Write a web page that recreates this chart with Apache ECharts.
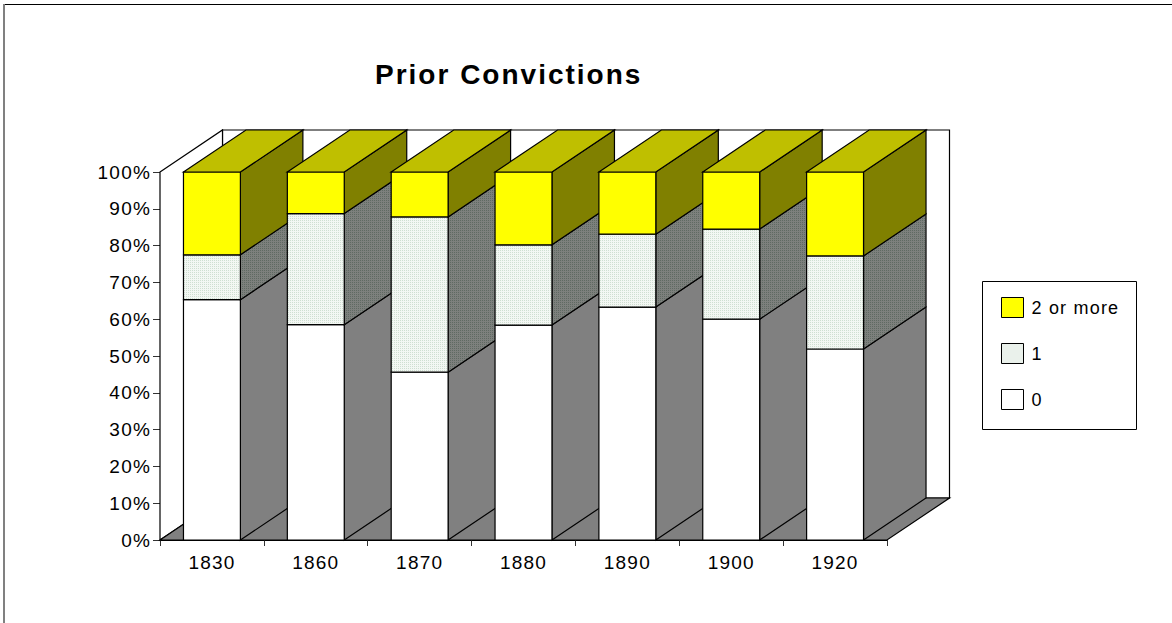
<!DOCTYPE html>
<html><head><meta charset="utf-8">
<style>
html,body{margin:0;padding:0;background:#fff}
#c{width:1172px;height:623px}
#c svg text{letter-spacing:1.2px}
#c svg text[style*="bold"]{letter-spacing:2px}
</style>
<script src="https://cdn.jsdelivr.net/npm/echarts@6/dist/echarts.min.js"></script>
</head><body><div id="c"></div>
<script>
const categories = ['1830','1860','1870','1880','1890','1900','1920'];
const zero = [65.3,58.5,45.6,58.4,63.3,60,51.9];
const one = [12.2,30.2,42.2,21.8,19.8,24.5,25.3];
const twoOrMore = [22.5,11.3,12.2,19.8,16.9,15.5,22.8];
const tickLabels = ['0%','10%','20%','30%','40%','50%','60%','70%','80%','90%','100%'];
const title = 'Prior Convictions';
const FONT = '"Liberation Sans", Arial, sans-serif';
const DX = 62.5, DY = -42;

function pattern(bg, dot) {
  const cv = document.createElement('canvas');
  cv.width = 4; cv.height = 4;
  const g = cv.getContext('2d');
  g.fillStyle = bg; g.fillRect(0, 0, 4, 4);
  g.fillStyle = dot;
  g.fillRect(0, 0, 1, 1); g.fillRect(2, 2, 1, 1);
  g.fillRect(0, 2, 1, 1); g.fillRect(2, 0, 1, 1);
  return {image: cv, repeat: 'repeat'};
}
const dotFront = pattern('#f3f7f3', '#cfdfd1');
const dotSide = pattern('#7d807d', '#5f6a62');

const levels = [
  {name: '0', values: zero, base: [], front: '#ffffff', side: '#808080'},
  {name: '1', values: one, base: zero, front: dotFront, side: dotSide},
  {name: '2 or more', values: twoOrMore, base: zero.map((v, i) => v + one[i]), front: '#ffff00', side: '#808000', top: '#bfbf00'}
];
const line = {stroke: '#000', lineWidth: 1.2};

function barItem(lv, li) {
  return function (params, api) {
    const i = api.value(0), lo = api.value(2), hi = lo + api.value(1);
    const bw = api.size([1, 0])[0] * 0.548;
    const a = api.coord([i, lo]), b = api.coord([i, hi]);
    const x0 = a[0] - bw / 2, x1 = a[0] + bw / 2, y0 = a[1], y1 = b[1];
    const z = 10 + i * 10 + li;
    const kids = [
      {type: 'polygon', z2: z, shape: {points: [[x1, y0], [x1 + DX, y0 + DY], [x1 + DX, y1 + DY], [x1, y1]]}, style: Object.assign({fill: lv.side}, line)},
      {type: 'rect', z2: z + 1, shape: {x: x0, y: y1, width: bw, height: y0 - y1}, style: Object.assign({fill: lv.front}, line)}
    ];
    if (lv.top) kids.push({type: 'polygon', z2: z + 2, shape: {points: [[x0, y1], [x0 + DX, y1 + DY], [x1 + DX, y1 + DY], [x1, y1]]}, style: Object.assign({fill: lv.top}, line)});
    return {type: 'group', children: kids};
  };
}
function wallItem(params) {
  const s = params.coordSys, l = s.x, r = s.x + s.width, t = s.y, b = s.y + s.height;
  return {type: 'group', children: [
    {type: 'polygon', z2: 1, shape: {points: [[l + DX, t + DY], [r + DX, t + DY], [r + DX, b + DY], [l + DX, b + DY]]}, style: Object.assign({fill: '#fff'}, line)},
    {type: 'polygon', z2: 2, shape: {points: [[l, t], [l + DX, t + DY], [l + DX, b + DY], [l, b]]}, style: Object.assign({fill: '#fff'}, line)},
    {type: 'polygon', z2: 3, shape: {points: [[l, b], [l + DX, b + DY], [r + DX, b + DY], [r, b]]}, style: Object.assign({fill: '#808080'}, line)}
  ]};
}

const series = [{type: 'custom', name: 'walls', silent: true, z: 1, renderItem: wallItem, data: [[0]], encode: {x: 0, y: 0}}];
levels.forEach((lv, li) => series.push({
  type: 'custom', name: lv.name, z: 2, silent: true, renderItem: barItem(lv, li),
  itemStyle: {color: lv.front === dotFront ? '#e8f2e8' : lv.front},
  encode: {x: 0, y: 1},
  data: lv.values.map((v, i) => [i, v, lv.base.length ? lv.base[i] : 0])
}));

const legendColor = {'2 or more': '#ffff00', '1': dotFront, '0': '#ffffff'};
const chart = echarts.init(document.getElementById('c'), null, {renderer: 'svg', width: 1172, height: 623});
chart.setOption({
  animation: false,
  backgroundColor: '#fff',
  title: {text: title, left: 375, top: 60, padding: 0, textStyle: {fontFamily: FONT, fontSize: 28, fontWeight: 'bold', color: '#000'}},
  grid: {left: 160, right: 285, top: 172, bottom: 83, containLabel: false},
  xAxis: {type: 'category', data: categories,
    axisLine: {lineStyle: {color: '#000', width: 1}},
    axisTick: {show: true, length: 6, alignWithLabel: false, lineStyle: {color: '#333'}},
    axisLabel: {fontFamily: FONT, fontSize: 19, color: '#000', margin: 13}},
  yAxis: {type: 'value', min: 0, max: 100, interval: 10,
    splitLine: {show: false},
    axisLine: {show: true, lineStyle: {color: '#555', width: 1}},
    axisTick: {show: true, length: 7, lineStyle: {color: '#333'}},
    axisLabel: {fontFamily: FONT, fontSize: 19, color: '#000', margin: 9, formatter: v => tickLabels[v / 10]}},
  legend: {orient: 'vertical', left: 1001, top: 297, padding: 0, itemWidth: 22, itemHeight: 20, itemGap: 25,
    selectedMode: false,
    data: ['2 or more', '1', '0'].map(n => ({name: n, icon: 'rect', itemStyle: {color: legendColor[n], borderColor: '#000', borderWidth: 1}})),
    textStyle: {fontFamily: FONT, fontSize: 18, color: '#000', padding: [0, 0, 0, 3]}},
  graphic: [
    {type: 'line', silent: true, shape: {x1: 3, y1: 4.5, x2: 1172, y2: 4.5}, style: {stroke: '#000', lineWidth: 1}},
    {type: 'line', silent: true, shape: {x1: 4, y1: 4, x2: 4, y2: 623}, style: {stroke: '#808080', lineWidth: 2}},
    {type: 'rect', silent: true, z: -1, shape: {x: 982.5, y: 281.5, width: 154, height: 148}, style: {fill: '#fff', stroke: '#000', lineWidth: 1}}
  ],
  series
});
</script></body></html>
